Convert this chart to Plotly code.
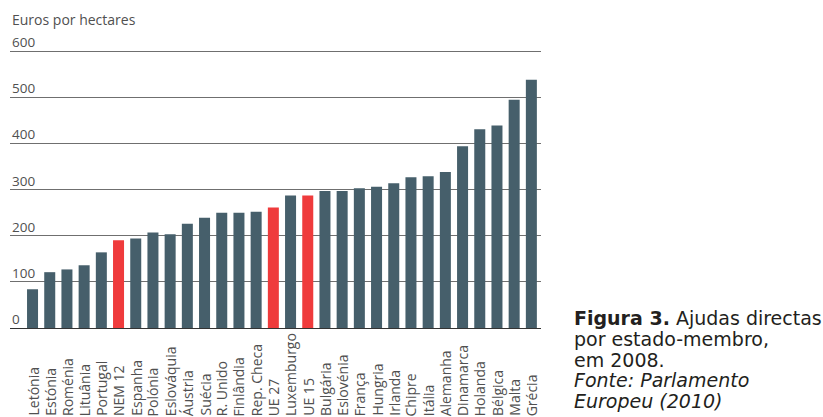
import plotly.graph_objects as go

# Ajudas directas por estado-membro, 2008 (euros por hectare)
paises = [
    "Letónia", "Estónia", "Roménia", "Lituânia", "Portugal", "NEM 12",
    "Espanha", "Polónia", "Eslováquia", "Áustria", "Suécia", "R. Unido",
    "Finlândia", "Rep. Checa", "UE 27", "Luxemburgo", "UE 15", "Bulgária",
    "Eslovénia", "França", "Hungria", "Irlanda", "Chipre", "Itália",
    "Alemanha", "Dinamarca", "Holanda", "Bélgica", "Malta", "Grécia",
]
euros_ha = [
    84, 121, 127, 136, 164, 190,
    194, 207, 203, 226, 239, 250,
    250, 252, 261, 287, 287, 297,
    297, 303, 306, 314, 327, 329,
    338, 394, 431, 439, 495, 538,
]
agregados = ["NEM 12", "UE 27", "UE 15"]
y_ticks = [0, 100, 200, 300, 400, 500, 600]
legenda = [
    "<b>Figura 3.</b> Ajudas directas",
    "por estado-membro,",
    "em 2008.",
    "<i>Fonte: Parlamento</i>",
    "<i>Europeu (2010)</i>",
]

COR_PAIS = "#465f6b"
COR_AGREGADO = "#ef3b3c"
TXT = "#505050"
FONT = "'Open Sans', sans-serif"
PLOT_H = 286  # px height of the plotting area
PLOT_W = 531  # px width of the plotting area

cores = [COR_AGREGADO if p in agregados else COR_PAIS for p in paises]

fig = go.Figure(
    go.Bar(
        x=paises,
        y=euros_ha,
        marker=dict(color=cores, line=dict(width=0)),
        hoverinfo="x+y",
    )
)

annotations = []

# y-axis values sit above their gridlines, flush left
for v in y_ticks:
    annotations.append(dict(
        x=0, xref="paper", y=v, yref="y",
        text=str(v), showarrow=False,
        xanchor="left", yanchor="bottom", yshift=-2,
        font=dict(family=FONT, size=13.5, color=TXT),
    ))

# axis title
annotations.append(dict(
    x=0, xref="paper", y=1.078, yref="paper",
    text="Euros por hectares", showarrow=False,
    xanchor="left", yanchor="middle",
    font=dict(family=FONT, size=14, color=TXT),
))

# category labels, rotated, reading bottom-to-top from a common baseline
for p in paises:
    annotations.append(dict(
        x=p, xref="x", y=-89 / PLOT_H, yref="paper",
        text=p, showarrow=False, textangle=-90,
        xanchor="center", yanchor="bottom", yshift=-1,
        font=dict(family=FONT, size=14, color=TXT),
    ))

# figure caption, one annotation per line for tight leading
for i, linha in enumerate(legenda):
    annotations.append(dict(
        x=(572 - 10) / PLOT_W, xref="paper",
        y=(328 - 318 - 20.8 * i) / PLOT_H, yref="paper",
        text=linha, showarrow=False, align="left",
        xanchor="left", yanchor="middle",
        font=dict(family="'DejaVu Sans', sans-serif", size=19, color="#231f20"),
    ))

fig.update_layout(
    width=823, height=417,
    margin=dict(l=10, r=282, t=42, b=89),
    paper_bgcolor="white", plot_bgcolor="white",
    showlegend=False,
    bargap=0.36,
    annotations=annotations,
    xaxis=dict(
        type="category",
        range=[-1.31, 29.56],
        showticklabels=False, showgrid=False, zeroline=False,
        showline=False, ticks="",
    ),
    yaxis=dict(
        range=[0, 620],
        tickvals=y_ticks,
        showticklabels=False,
        showgrid=True, gridcolor="#6f6f6f", gridwidth=1.4,
        zeroline=True, zerolinecolor="#333333", zerolinewidth=1.4,
        showline=False, ticks="",
    ),
)

fig.write_html("out.html")
